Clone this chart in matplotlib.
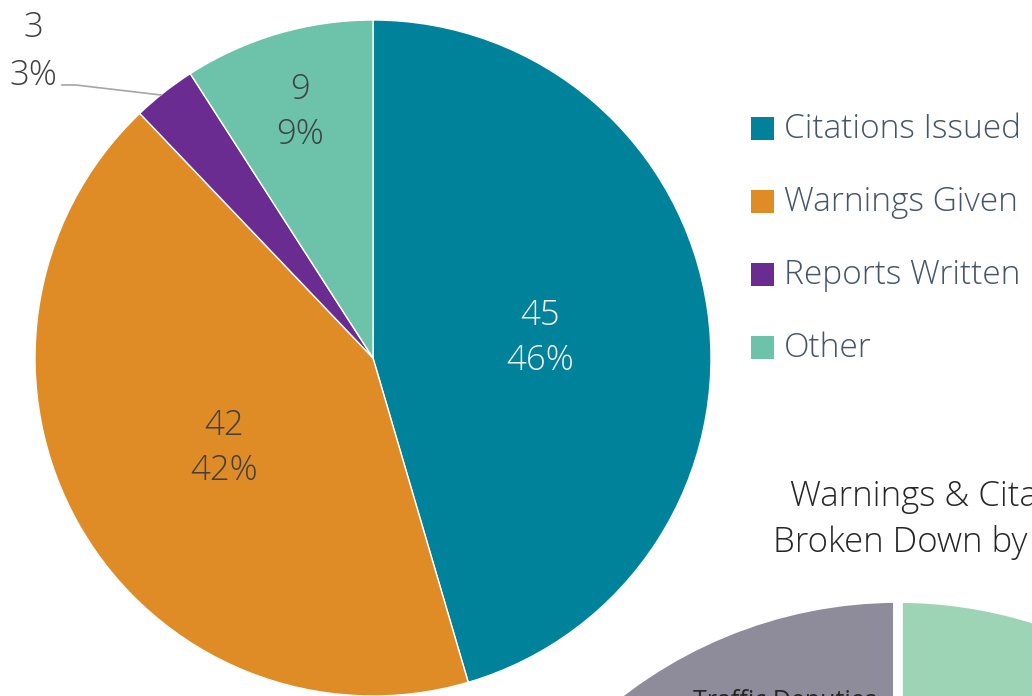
import numpy as np
import matplotlib
matplotlib.use('Agg')
import matplotlib.pyplot as plt
from matplotlib.patches import Rectangle

plt.rcParams['font.family'] = ['Open Sans', 'DejaVu Sans']

# main pie data
categories = ['Citations Issued', 'Warnings Given', 'Reports Written', 'Other']
counts = [45, 42, 3, 9]
pct_labels = ['46%', '42%', '3%', '9%']
colors = ['#00829B', '#E08C26', '#6A2C91', '#6CC3AA']
label_colors = ['#F2F2F2', '#404040', '#404040', '#404040']

# second (cropped) chart
sub_names = ['Traffic Deputies', 'Other']
sub_values = [25, 75]
sub_colors = ['#8E8C9A', '#9DD4B5']

W, H = 1032, 696
fig = plt.figure(figsize=(W / 100, H / 100), dpi=100)
ax = fig.add_axes([0, 0, 1, 1])

cx, cy, R = 373, H - 358, 338
wedges, _ = ax.pie(counts, colors=colors, startangle=90, counterclock=False,
                   center=(cx, cy), radius=R,
                   wedgeprops=dict(linewidth=1, edgecolor='white'))

# value labels
total = sum(counts)
start = 90.0
dists = [0.5, 0.51, None, 0.77]
for i, v in enumerate(counts):
    mid = start - v / total * 360 / 2
    start -= v / total * 360
    if dists[i] is None:
        continue
    a = np.deg2rad(mid)
    x = cx + dists[i] * R * np.cos(a)
    y = cy + dists[i] * R * np.sin(a)
    ax.text(x, y - 4, f'{v}\n{pct_labels[i]}', ha='center', va='center',
            fontsize=25, color=label_colors[i], fontweight='light',
            linespacing=1.4)

# outside label for the small slice
ax.text(33, H - 52, f'{counts[2]}\n{pct_labels[2]}', ha='center', va='center',
        fontsize=25, color='#404040', fontweight='light', linespacing=1.5)
ax.plot([62, 76, 161], [H - 85, H - 85, H - 95], color='#A6A6A6', lw=1.2)

# legend
for i, name in enumerate(categories):
    ly = H - (129 + i * 73)
    ax.add_patch(Rectangle((751, ly - 11), 23, 23, facecolor=colors[i], edgecolor='none'))
    ax.text(784, ly, name, ha='left', va='center', fontsize=24,
            color='#44546A', fontweight='light')

# second chart, only partly visible
ax.pie(sub_values, colors=sub_colors, startangle=90, counterclock=True,
       center=(898, H - 1053), radius=455,
       wedgeprops=dict(linewidth=7, edgecolor='white'))
ax.text(790, H - 497, 'Warnings & Citations', ha='left', va='center',
        fontsize=25, color='#262626', fontweight='light')
ax.text(773, H - 543, 'Broken Down by Deputy', ha='left', va='center',
        fontsize=25, color='#262626', fontweight='light')
ax.text(693, H - 701, sub_names[0], ha='left', va='center',
        fontsize=18, color='#262626')

ax.set_xlim(0, W)
ax.set_ylim(0, H)
ax.set_aspect('equal')
ax.axis('off')

plt.savefig('out.png', dpi=100)
